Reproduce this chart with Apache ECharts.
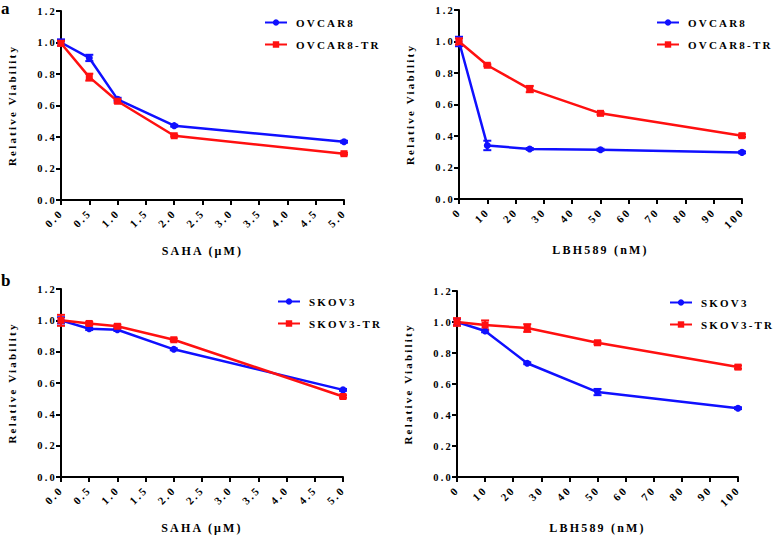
<!DOCTYPE html>
<html>
<head>
<meta charset="utf-8">
<script src="https://cdn.jsdelivr.net/npm/echarts@6/dist/echarts.min.js"></script>
<style>
html,body{margin:0;padding:0;background:#fff;}
#chart{width:778px;height:535px;}
#chart svg text{letter-spacing:2.2px;}
</style>
</head>
<body>
<div id="chart"></div>
<script>
// ---- data ----
const sahaDose = [0, 0.5, 1, 2, 5];
const lbhDose = [0, 10, 25, 50, 100];
const sahaTicks = ['0.0','0.5','1.0','1.5','2.0','2.5','3.0','3.5','4.0','4.5','5.0'];
const yTicks = ['0.0','0.2','0.4','0.6','0.8','1.0','1.2'];

const ovcar8Saha    = [1.00, 0.902, 0.639, 0.472, 0.370];
const ovcar8SahaErr = [0.02, 0.02, 0.01, 0.006, 0.006];
const ovcar8TRSaha    = [0.995, 0.780, 0.627, 0.408, 0.294];
const ovcar8TRSahaErr = [0.015, 0.022, 0.01, 0.006, 0.006];

const ovcar8Lbh    = [1.00, 0.340, 0.318, 0.313, 0.296];
const ovcar8LbhErr = [0.03, 0.03, 0.006, 0.006, 0.006];
const ovcar8TRLbh    = [1.00, 0.849, 0.698, 0.544, 0.402];
const ovcar8TRLbhErr = [0.02, 0.006, 0.02, 0.008, 0.008];

const skov3Saha    = [1.00, 0.946, 0.940, 0.815, 0.556];
const skov3SahaErr = [0.02, 0.008, 0.008, 0.006, 0.006];
const skov3TRSaha    = [1.00, 0.980, 0.962, 0.876, 0.514];
const skov3TRSahaErr = [0.035, 0.01, 0.01, 0.008, 0.008];

const skov3Lbh    = [1.00, 0.942, 0.734, 0.548, 0.444];
const skov3LbhErr = [0.02, 0.008, 0.006, 0.02, 0.006];
const skov3TRLbh    = [1.00, 0.980, 0.961, 0.866, 0.709];
const skov3TRLbhErr = [0.025, 0.03, 0.025, 0.01, 0.01];

const BLUE = '#1010ff';
const RED = '#ff1010';
const FONT = '"Liberation Serif", "DejaVu Serif", serif';

// ---- layout ----
const grids = [
  {left: 61, top: 11, width: 283, height: 189},
  {left: 459, top: 10, width: 283, height: 189},
  {left: 61, top: 289, width: 282, height: 189},
  {left: 457, top: 291, width: 281, height: 189}
];

function xAxisFor(i, isSaha) {
  return {
    gridIndex: i, type: 'value',
    min: 0, max: isSaha ? 5 : 100, interval: isSaha ? 0.5 : 10,
    name: isSaha ? 'SAHA (μM)' : 'LBH589 (nM)',
    nameLocation: 'middle', nameGap: 45,
    nameTextStyle: {fontFamily: FONT, fontWeight: 'bold', fontSize: 12, color: '#000'},
    axisLine: {show: true, lineStyle: {color: '#000', width: 2}},
    axisTick: {show: true, length: 5, lineStyle: {color: '#000', width: 2}},
    splitLine: {show: false},
    axisLabel: {
      rotate: 45, margin: 11, fontFamily: FONT, fontWeight: 'bold', fontSize: 11, color: '#000',
      formatter: v => isSaha ? v.toFixed(1) : String(Math.round(v))
    }
  };
}
function yAxisFor(i) {
  return {
    gridIndex: i, type: 'value', min: 0, max: 1.2, interval: 0.2,
    name: 'Relative Viability', nameLocation: 'middle', nameGap: 44,
    nameTextStyle: {fontFamily: FONT, fontWeight: 'bold', fontSize: 11, color: '#000'},
    axisLine: {show: true, lineStyle: {color: '#000', width: 2}},
    axisTick: {show: true, length: 5, lineStyle: {color: '#000', width: 2}},
    splitLine: {show: false},
    axisLabel: {margin: 4, fontFamily: FONT, fontWeight: 'bold', fontSize: 10.5, color: '#000',
      formatter: v => v.toFixed(1)}
  };
}

function lineSeries(name, i, xs, ys, color, symbol) {
  return {
    type: 'line', name: name, xAxisIndex: i, yAxisIndex: i,
    data: xs.map((x, k) => [x, ys[k]]),
    symbol: symbol, symbolSize: 7,
    lineStyle: {color: color, width: 2.5},
    itemStyle: {color: color},
    z: 3
  };
}
function errSeries(i, xs, ys, es, color) {
  return {
    type: 'custom', xAxisIndex: i, yAxisIndex: i, silent: true, z: 2,
    data: xs.map((x, k) => [x, ys[k] - es[k], ys[k] + es[k]]),
    renderItem: function (params, api) {
      const lo = api.coord([api.value(0), api.value(1)]);
      const hi = api.coord([api.value(0), api.value(2)]);
      const w = 4;
      const st = {stroke: color, lineWidth: 2};
      return {type: 'group', children: [
        {type: 'line', shape: {x1: lo[0], y1: lo[1], x2: hi[0], y2: hi[1]}, style: st},
        {type: 'line', shape: {x1: lo[0]-w, y1: lo[1], x2: lo[0]+w, y2: lo[1]}, style: st},
        {type: 'line', shape: {x1: hi[0]-w, y1: hi[1], x2: hi[0]+w, y2: hi[1]}, style: st}
      ]};
    }
  };
}

function legendFor(names, left, top) {
  return {
    data: names, orient: 'vertical', left: left, top: top,
    itemWidth: 22, itemHeight: 8, itemGap: 11,
    selectedMode: false,
    textStyle: {fontFamily: FONT, fontWeight: 'bold', fontSize: 11, color: '#000', padding: [0,0,0,4]}
  };
}

const option = {
  animation: false,
  backgroundColor: '#fff',
  grid: grids,
  xAxis: [xAxisFor(0, true), xAxisFor(1, false), xAxisFor(2, true), xAxisFor(3, false)],
  yAxis: [yAxisFor(0), yAxisFor(1), yAxisFor(2), yAxisFor(3)],
  legend: [
    legendFor(['OVCAR8', 'OVCAR8-TR'], 259, 12),
    legendFor(['OVCAR8', 'OVCAR8-TR'], 651, 12),
    legendFor(['SKOV3', 'SKOV3-TR'], 272, 291),
    legendFor(['SKOV3', 'SKOV3-TR'], 664, 292)
  ],
  graphic: [
    {type: 'text', left: 1, top: 0, style: {text: 'a', font: 'bold 17px ' + FONT, fill: '#000'}},
    {type: 'text', left: 1, top: 272, style: {text: 'b', font: 'bold 17px ' + FONT, fill: '#000'}}
  ],
  series: [
    errSeries(0, sahaDose, ovcar8Saha, ovcar8SahaErr, BLUE),
    errSeries(0, sahaDose, ovcar8TRSaha, ovcar8TRSahaErr, RED),
    lineSeries('OVCAR8', 0, sahaDose, ovcar8Saha, BLUE, 'circle'),
    lineSeries('OVCAR8-TR', 0, sahaDose, ovcar8TRSaha, RED, 'rect'),

    errSeries(1, lbhDose, ovcar8Lbh, ovcar8LbhErr, BLUE),
    errSeries(1, lbhDose, ovcar8TRLbh, ovcar8TRLbhErr, RED),
    lineSeries('OVCAR8', 1, lbhDose, ovcar8Lbh, BLUE, 'circle'),
    lineSeries('OVCAR8-TR', 1, lbhDose, ovcar8TRLbh, RED, 'rect'),

    errSeries(2, sahaDose, skov3Saha, skov3SahaErr, BLUE),
    errSeries(2, sahaDose, skov3TRSaha, skov3TRSahaErr, RED),
    lineSeries('SKOV3', 2, sahaDose, skov3Saha, BLUE, 'circle'),
    lineSeries('SKOV3-TR', 2, sahaDose, skov3TRSaha, RED, 'rect'),

    errSeries(3, lbhDose, skov3Lbh, skov3LbhErr, BLUE),
    errSeries(3, lbhDose, skov3TRLbh, skov3TRLbhErr, RED),
    lineSeries('SKOV3', 3, lbhDose, skov3Lbh, BLUE, 'circle'),
    lineSeries('SKOV3-TR', 3, lbhDose, skov3TRLbh, RED, 'rect')
  ]
};

const chart = echarts.init(document.getElementById('chart'), null, {renderer: 'svg'});
chart.setOption(option);
</script>
</body>
</html>
